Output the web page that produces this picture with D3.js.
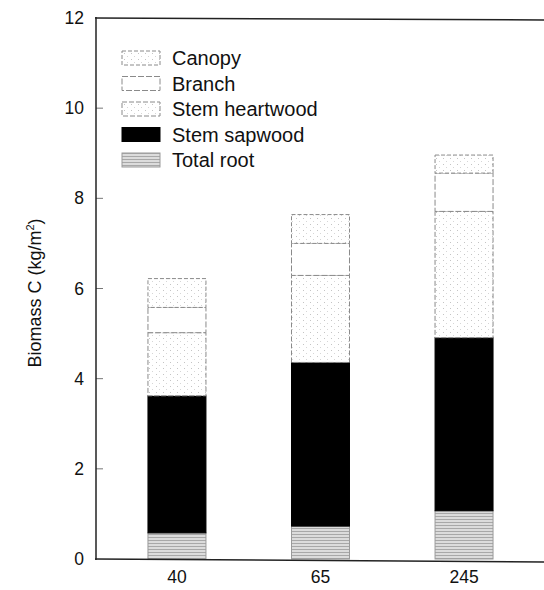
<!DOCTYPE html>
<html>
<head>
<meta charset="utf-8">
<script src="https://cdn.jsdelivr.net/npm/d3@7"></script>
<style>
  body { margin: 0; background: #fff; }
  text { font-family: "Liberation Sans", Arial, sans-serif; fill: #111; }
</style>
</head>
<body>
<div id="chart"></div>
<script>
var ages = ["40", "65", "245"];
var parts = ["Total root", "Stem sapwood", "Stem heartwood", "Branch", "Canopy"];
var root = [0.58, 0.73, 1.07];
var sapwood = [3.04, 3.63, 3.84];
var heartwood = [1.40, 1.93, 2.80];
var branch = [0.56, 0.71, 0.85];
var canopy = [0.64, 0.64, 0.40];
var yTicks = [0, 2, 4, 6, 8, 10, 12];

var draw = function(){
	var svg = d3.select("#chart").append("svg").attr("width", 544).attr("height", 590);
	var defs = svg.append("defs");

	// root: grey hatch
	var p1 = defs.append("pattern").attr("id", "pRoot").attr("patternUnits", "userSpaceOnUse").attr("width", 4).attr("height", 3);
	p1.append("rect").attr("width", 4).attr("height", 3).attr("fill", "#dcdcdc");
	p1.append("rect").attr("width", 4).attr("height", 1).attr("fill", "#a8a8a8");
	// sparse dots for canopy / heartwood
	var p2 = defs.append("pattern").attr("id", "pDots").attr("patternUnits", "userSpaceOnUse").attr("width", 7).attr("height", 6);
	p2.append("rect").attr("width", 7).attr("height", 6).attr("fill", "#fff");
	p2.append("rect").attr("x", 2).attr("y", 2).attr("width", 1).attr("height", 1).attr("fill", "#c4c4c4");
	p2.append("rect").attr("x", 5).attr("y", 5).attr("width", 1).attr("height", 1).attr("fill", "#d6d6d6");

	var fills = {"Total root": "url(#pRoot)", "Stem sapwood": "#000", "Stem heartwood": "url(#pDots)", "Branch": "#fff", "Canopy": "url(#pDots)"};
	var strokes = {"Total root": "#9a9a9a", "Stem sapwood": "#000", "Stem heartwood": "#8a8a8a", "Branch": "#8a8a8a", "Canopy": "#8a8a8a"};
	var dashes = {"Total root": null, "Stem sapwood": null, "Stem heartwood": "5,2", "Branch": "6,2", "Canopy": "4,2"};

	var x = d3.scaleBand().domain(ages).range([96, 545]).paddingInner(0.596).paddingOuter(0.362);
	var y = d3.scaleLinear().domain([0, 12]).range([559, 18]);

	var table = ages.map(function(a, i){
		return {age: a, "Total root": root[i], "Stem sapwood": sapwood[i], "Stem heartwood": heartwood[i], "Branch": branch[i], "Canopy": canopy[i]};
	});
	var stack = d3.stack().keys(parts)(table);

	for (var k = 0; k < stack.length; k++) {
		svg.append("g").selectAll("rect").data(stack[k]).enter()
			.append("rect")
			.attr("x", function(d){ return x(d.data.age); })
			.attr("y", function(d){ return y(d[1]); })
			.attr("width", x.bandwidth())
			.attr("height", function(d){ return y(d[0]) - y(d[1]); })
			.attr("fill", fills[parts[k]])
			.attr("stroke", strokes[parts[k]])
			.attr("stroke-width", 1)
			.attr("stroke-dasharray", dashes[parts[k]]);
	}

	// axes
	var yAxis = d3.axisLeft(y).tickValues(yTicks).tickSize(0).tickPadding(12);
	var gy = svg.append("g").attr("transform", "translate(96,0)").call(yAxis);
	gy.select(".domain").remove();
	gy.selectAll("text").style("font-size", "17.5px").attr("fill", "#111");
	svg.append("g").selectAll("line").data(yTicks.slice(1, 6)).enter().append("line")
		.attr("x1", 96).attr("x2", 103)
		.attr("y1", function(d){ return y(d); }).attr("y2", function(d){ return y(d); })
		.attr("stroke", "#777").attr("stroke-width", 1);

	var xAxis = d3.axisBottom(x).tickSize(0).tickPadding(12);
	var gx = svg.append("g").attr("transform", "translate(0,559)").call(xAxis);
	gx.select(".domain").remove();
	gx.selectAll("text").style("font-size", "17.5px").attr("fill", "#111");

	svg.append("line").attr("x1", 96).attr("x2", 96).attr("y1", 17).attr("y2", 560).attr("stroke", "#222").attr("stroke-width", 1.5);
	svg.append("line").attr("x1", 95).attr("x2", 544).attr("y1", 18).attr("y2", 20).attr("stroke", "#222").attr("stroke-width", 1.5);
	svg.append("line").attr("x1", 95).attr("x2", 544).attr("y1", 559).attr("y2", 562).attr("stroke", "#222").attr("stroke-width", 1.5);

	svg.append("text").attr("text-anchor", "middle")
		.attr("transform", "translate(41,293) rotate(-90)")
		.style("font-size", "18px")
		.html("Biomass C (kg/m<tspan dy='-7' font-size='11px'>2</tspan><tspan dy='7'>)</tspan>");

	// legend
	var legendOrder = ["Canopy", "Branch", "Stem heartwood", "Stem sapwood", "Total root"];
	var lg = svg.append("g").selectAll("g").data(legendOrder).enter().append("g")
		.attr("transform", function(d, i){ return "translate(122," + (51 + i * 25.5) + ")"; });
	lg.append("rect").attr("width", 38).attr("height", 14)
		.attr("fill", function(d){ return fills[d]; })
		.attr("stroke", function(d){ return strokes[d]; })
		.attr("stroke-dasharray", function(d){ return dashes[d]; });
	lg.append("text").attr("x", 50).attr("y", 14).style("font-size", "20px").text(function(d){ return d; });
};

window.onload = function(){
	draw();
};
</script>
</body>
</html>
